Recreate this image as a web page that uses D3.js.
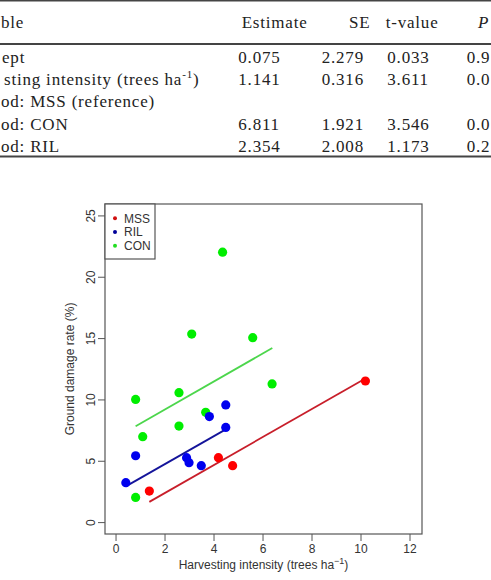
<!DOCTYPE html>
<html>
<head>
<meta charset="utf-8">
<script src="https://cdn.jsdelivr.net/npm/d3@7"></script>
<style>
  body { margin: 0; background: #fff; }
  svg { display: block; }
</style>
</head>
<body>
<div id="chart"></div>
<script>
// table, as far as it is visible in the cropped picture
const tableHeader = ['ble', 'Estimate', 'SE', 't-value', 'P'];
const rowLabels = ['ept', 'sting intensity (trees ha', 'od: MSS (reference)', 'od: CON', 'od: RIL'];
const estimates = ['0.075', '1.141', '', '6.811', '2.354'];
const stdErrors = ['2.279', '0.316', '', '1.921', '2.008'];
const tValues = ['0.033', '3.611', '', '3.546', '1.173'];
const pValues = ['0.9', '0.0', '', '0.0', '0.2'];

// scatter data
const groups = ['MSS', 'RIL', 'CON'];
const mssX = [1.38, 4.2, 4.78, 10.2];
const mssY = [2.53, 5.25, 4.6, 11.5];
const rilX = [0.42, 0.82, 2.9, 3.0, 3.5, 3.83, 4.5, 4.5];
const rilY = [3.21, 5.41, 5.25, 4.84, 4.6, 8.6, 9.55, 7.72];
const conX = [0.82, 1.11, 0.82, 2.59, 2.59, 3.11, 3.68, 4.37, 5.6, 6.39];
const conY = [10.0, 6.96, 2.01, 10.55, 7.83, 15.33, 8.95, 22.0, 15.03, 11.26];
// fitted lines, start and end points
const mssLine = [[1.38, 1.65], [10.2, 11.71]];
const rilLine = [[0.42, 2.91], [4.5, 7.56]];
const conLine = [[0.82, 7.82], [6.4, 14.19]];

const xTicks = [0, 2, 4, 6, 8, 10, 12];
const yTicks = [0, 5, 10, 15, 20, 25];

const pointColors = { MSS: '#ff0000', RIL: '#0000ee', CON: '#00ee00' };
const lineColors = { MSS: '#c81e2a', RIL: '#14149a', CON: '#4cd64c' };
const legendColors = { MSS: '#d01010', RIL: '#000099', CON: '#22dd22' };

const width = 491, height = 580;
const svg = d3.select('#chart').append('svg')
    .attr('width', width)
    .attr('height', height);

// ---- table ----
const table = svg.append('g')
    .style('font-family', '"Liberation Serif", "DejaVu Serif", serif')
    .style('font-size', '17px')
    .style('letter-spacing', '0.8px')
    .attr('fill', '#222');

[0.75, 44, 156.5].forEach((yy, i) => {
    table.append('line')
        .attr('x1', 0).attr('x2', width)
        .attr('y1', yy).attr('y2', yy)
        .attr('stroke', '#444')
        .attr('stroke-width', i === 0 ? 1.5 : 2);
});

const colX = [1, 241.7, 349, 385.7, 478];
const valX = [1, 238.3, 321.7, 387.3, 466.7];
const labelX = [2, 4, 1, 1, 1];
const rowY = [62.5, 85, 107, 130, 152];

tableHeader.forEach((h, i) => {
    table.append('text')
        .attr('x', colX[i])
        .attr('y', 28)
        .style('font-style', h === 'P' ? 'italic' : 'normal')
        .text(h);
});

rowLabels.forEach((label, r) => {
    const t = table.append('text')
        .attr('x', labelX[r])
        .attr('y', rowY[r])
        .text(label);
    if (r === 1) {
        t.append('tspan').attr('dy', -7).style('font-size', '11px').text('-1');
        t.append('tspan').attr('dy', 7).text(')');
    }
});

[estimates, stdErrors, tValues, pValues].forEach((col, c) => {
    col.forEach((v, r) => {
        if (!v) return;
        table.append('text')
            .attr('x', valX[c + 1])
            .attr('y', rowY[r])
            .text(v);
    });
});

// ---- scatter plot ----
const box = { left: 105, right: 422, top: 204, bottom: 534 };

const x = d3.scaleLinear()
    .domain([-0.43, 12.51])
    .range([box.left, box.right]);

const y = d3.scaleLinear()
    .domain([-0.97, 25.93])
    .range([box.bottom, box.top]);

const plot = svg.append('g')
    .style('font-family', '"Liberation Sans", Arial, sans-serif');

// x axis
const xAxis = plot.append('g')
    .attr('transform', `translate(0,${box.bottom})`)
    .call(d3.axisBottom(x).tickValues(xTicks).tickSize(7).tickPadding(3).tickFormat(d3.format('d')));
xAxis.select('.domain').remove();
xAxis.selectAll('line').attr('stroke', '#555');
xAxis.selectAll('text')
    .style('font-family', '"Liberation Sans", Arial, sans-serif')
    .style('font-size', '12px')
    .attr('fill', '#333');

// y axis, labels rotated like R's default
const yAxis = plot.append('g')
    .attr('transform', `translate(${box.left},0)`)
    .call(d3.axisLeft(y).tickValues(yTicks).tickSize(7).tickFormat(d3.format('d')));
yAxis.select('.domain').remove();
yAxis.selectAll('line').attr('stroke', '#555');
yAxis.selectAll('text')
    .style('font-family', '"Liberation Sans", Arial, sans-serif')
    .style('font-size', '12px')
    .attr('fill', '#333')
    .attr('x', null).attr('dy', null)
    .attr('text-anchor', 'middle')
    .attr('transform', 'translate(-10,0) rotate(-90)');

// box
plot.append('rect')
    .attr('x', box.left).attr('y', box.top)
    .attr('width', box.right - box.left)
    .attr('height', box.bottom - box.top)
    .attr('fill', 'none')
    .attr('stroke', '#555')
    .attr('stroke-width', 1.2);

// regression lines
const lines = { MSS: mssLine, RIL: rilLine, CON: conLine };
const lineGen = d3.line().x(d => x(d[0])).y(d => y(d[1]));
groups.forEach(g => {
    plot.append('path')
        .attr('d', lineGen(lines[g]))
        .attr('fill', 'none')
        .attr('stroke', lineColors[g])
        .attr('stroke-width', 1.8);
});

// points
const series = {
    MSS: d3.zip(mssX, mssY),
    RIL: d3.zip(rilX, rilY),
    CON: d3.zip(conX, conY)
};
['CON', 'RIL', 'MSS'].forEach(g => {
    plot.append('g').selectAll('circle')
        .data(series[g])
        .join('circle')
        .attr('cx', d => x(d[0]))
        .attr('cy', d => y(d[1]))
        .attr('r', 4.6)
        .attr('fill', pointColors[g]);
});

// legend (top left)
const legend = plot.append('g');
legend.append('rect')
    .attr('x', box.left).attr('y', box.top)
    .attr('width', 50).attr('height', 55)
    .attr('fill', 'white')
    .attr('stroke', '#555')
    .attr('stroke-width', 1.2);

groups.forEach((g, i) => {
    const cy = 218.3 + i * 13.7;
    legend.append('circle')
        .attr('cx', box.left + 10)
        .attr('cy', cy)
        .attr('r', 2)
        .attr('fill', legendColors[g]);
    legend.append('text')
        .attr('x', box.left + 19)
        .attr('y', cy)
        .attr('dy', '0.36em')
        .style('font-size', '12px')
        .attr('fill', '#333')
        .text(g);
});

// axis titles
const xTitle = plot.append('text')
    .attr('x', (box.left + box.right) / 2)
    .attr('y', 569)
    .attr('text-anchor', 'middle')
    .style('font-size', '12px')
    .attr('fill', '#333')
    .text('Harvesting intensity (trees ha');
xTitle.append('tspan').attr('dy', -5).style('font-size', '9px').text('\u22121');
xTitle.append('tspan').attr('dy', 5).text(')');

plot.append('text')
    .attr('transform', `translate(74,${(box.top + box.bottom) / 2}) rotate(-90)`)
    .attr('text-anchor', 'middle')
    .style('font-size', '12px')
    .attr('fill', '#333')
    .text('Ground damage rate (%)');
</script>
</body>
</html>
